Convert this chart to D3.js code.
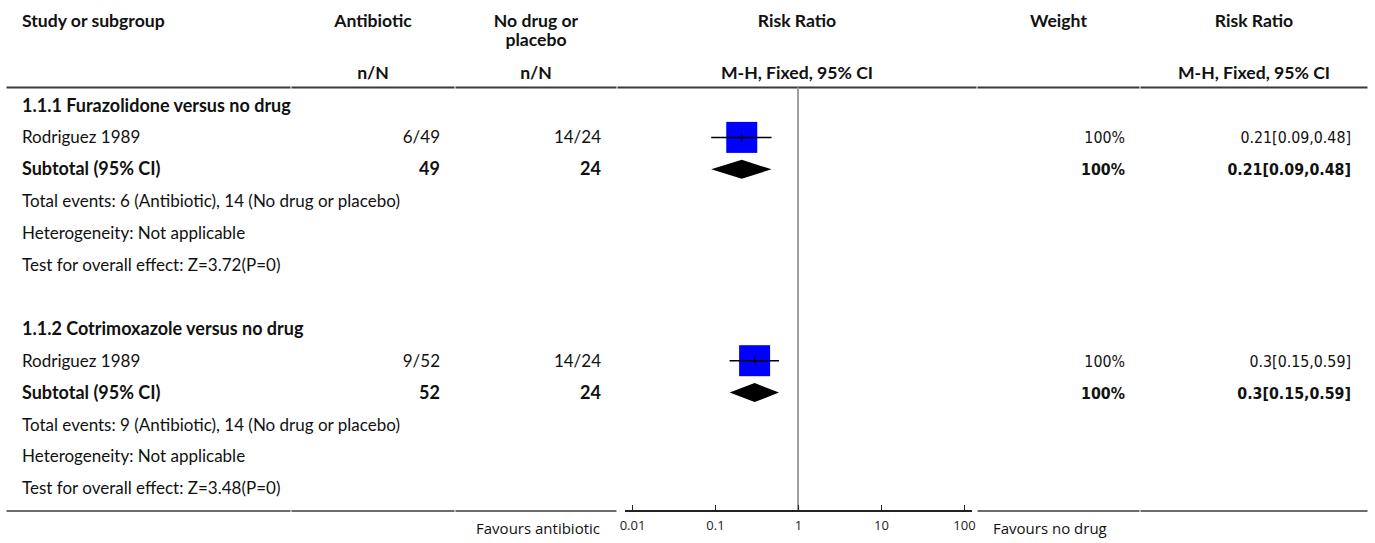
<!DOCTYPE html>
<html>
<head>
<meta charset="utf-8">
<script src="https://cdn.jsdelivr.net/npm/d3@7"></script>
<style>
  body { margin: 0; background: #fff; }
  svg text { font-family: Lato, "Noto Sans", sans-serif; fill: #111; }
  .hd { font-weight: bold; font-size: 17.6px; }
  .cell { font-size: 17px; }
  .cell.b { font-size: 18px; }
  .num { font-family: "DejaVu Sans Condensed", "DejaVu Sans", sans-serif; font-stretch: condensed; font-size: 15.8px; }
  .b { font-weight: bold; }
  .fav { font-family: "Open Sans", sans-serif; font-size: 15px; }
  .tick text { font-family: "Open Sans", sans-serif; font-size: 13px; fill: #222; }
</style>
</head>
<body>
<div id="plot"></div>
<script>
// data
var groupTitles = ["1.1.1 Furazolidone versus no drug", "1.1.2 Cotrimoxazole versus no drug"];
var studyNames = ["Rodriguez 1989", "Rodriguez 1989"];
var antibioticEvents = [6, 9];
var antibioticTotals = [49, 52];
var controlEvents = [14, 14];
var controlTotals = [24, 24];
var riskRatios = [0.21, 0.3];
var ciLower = [0.09, 0.15];
var ciUpper = [0.48, 0.59];
var weights = [100, 100];
var zValues = ["3.72", "3.48"];
var pValues = ["0", "0"];
var tickValues = [0.01, 0.1, 1, 10, 100];
var tickLabels = ["0.01", "0.1", "1", "10", "100"];
var favourLabels = ["Favours antibiotic", "Favours no drug"];

var w = 1375, h = 543;

// column layout
var cols = {
    study:  {x0: 6,   x1: 291},
    anti:   {x0: 291, x1: 455},
    ctrl:   {x0: 455, x1: 617},
    plot:   {x0: 617, x1: 977},
    weight: {x0: 977, x1: 1140},
    rr:     {x0: 1140, x1: 1368}
};
var pad = 15;
function mid(c) { return (c.x0 + c.x1) / 2; }

var svg = d3.select("#plot").append("svg")
    .attr("width", w)
    .attr("height", h);

// build the rows
var rows = [];
groupTitles.forEach(function (g, i) {
    if (i > 0) rows.push({type: "blank"});
    rows.push({type: "group", text: g});
    rows.push({type: "study", i: i});
    rows.push({type: "subtotal", i: i});
    rows.push({type: "text", text: "Total events: " + antibioticEvents[i] + " (Antibiotic), " + controlEvents[i] + " (No drug or placebo)"});
    rows.push({type: "text", text: "Heterogeneity: Not applicable"});
    rows.push({type: "text", text: "Test for overall effect: Z=" + zValues[i] + "(P=" + pValues[i] + ")"});
});

var rowH = 31.9, firstRow = 105.5;
var yRow = function (k) { return firstRow + k * rowH; };
var lineY = 87.5, bottomY = 511;

var x = d3.scaleLog()
    .domain([tickValues[0], tickValues[tickValues.length - 1]])
    .range([632, 964]);
var boxSize = d3.scaleSqrt().domain([0, 100]).range([0, 31]);

function rrText(i) {
    return riskRatios[i] + "[" + ciLower[i] + "," + ciUpper[i] + "]";
}

// header
var hdr = svg.append("g");
function head(txt, c, y) {
    hdr.append("text").attr("class", "hd")
        .attr("x", c === cols.study ? c.x0 + 16 : mid(c))
        .attr("y", y)
        .attr("text-anchor", c === cols.study ? "start" : "middle")
        .text(txt);
}
head("Study or subgroup", cols.study, 27);
head("Antibiotic", cols.anti, 27);
head("No drug or", cols.ctrl, 27);
head("placebo", cols.ctrl, 46);
head("Risk Ratio", cols.plot, 27);
head("Weight", cols.weight, 27);
head("Risk Ratio", cols.rr, 27);
head("n/N", cols.anti, 79);
head("n/N", cols.ctrl, 79);
head("M-H, Fixed, 95% CI", cols.plot, 79);
head("M-H, Fixed, 95% CI", cols.rr, 79);

// header + bottom rules, one segment per column
var colList = Object.values(cols);
svg.selectAll(".rule-top")
    .data(colList)
    .enter().append("line")
    .attr("x1", function (c) { return c.x0 + 0.5; })
    .attr("x2", function (c) { return c.x1 - 0.5; })
    .attr("y1", lineY).attr("y2", lineY)
    .style("stroke", "#3a3a3a")
    .style("stroke-width", 2);
svg.selectAll(".rule-bottom")
    .data(colList.filter(function (c) { return c !== cols.plot; }))
    .enter().append("line")
    .attr("x1", function (c) { return c.x0 + 0.5; })
    .attr("x2", function (c) { return c.x1 - 0.5; })
    .attr("y1", bottomY).attr("y2", bottomY)
    .style("stroke", "#3a3a3a")
    .style("stroke-width", 1.5);

// line of no effect
svg.append("line")
    .attr("x1", x(1)).attr("x2", x(1))
    .attr("y1", lineY).attr("y2", bottomY)
    .style("stroke", "#a0a0a0")
    .style("stroke-width", 2);

// rows
var body = svg.append("g");
rows.forEach(function (r, k) {
    var cy = yRow(k);
    var ty = cy + 6;
    if (r.type === "group") {
        body.append("text").attr("class", "cell b")
            .attr("x", cols.study.x0 + 16).attr("y", ty).text(r.text);
    }
    else if (r.type === "text") {
        body.append("text").attr("class", "cell")
            .attr("x", cols.study.x0 + 16).attr("y", ty).text(r.text);
    }
    else if (r.type === "study" || r.type === "subtotal") {
        var i = r.i;
        var sub = r.type === "subtotal";
        var cls = sub ? " b" : "";
        body.append("text").attr("class", "cell" + cls)
            .attr("x", cols.study.x0 + 16).attr("y", ty)
            .text(sub ? "Subtotal (95% CI)" : studyNames[i]);
        body.append("text").attr("class", "cell" + cls)
            .attr("x", cols.anti.x1 - pad).attr("y", ty).attr("text-anchor", "end")
            .text(sub ? antibioticTotals[i] : antibioticEvents[i] + "/" + antibioticTotals[i]);
        body.append("text").attr("class", "cell" + cls)
            .attr("x", cols.ctrl.x1 - pad - 1).attr("y", ty).attr("text-anchor", "end")
            .text(sub ? controlTotals[i] : controlEvents[i] + "/" + controlTotals[i]);
        body.append("text").attr("class", "num" + cls)
            .attr("x", cols.weight.x1 - pad).attr("y", ty).attr("text-anchor", "end")
            .text(weights[i] + "%");
        body.append("text").attr("class", "num" + cls)
            .attr("x", cols.rr.x1 - 17).attr("y", ty).attr("text-anchor", "end")
            .text(rrText(i));

        if (!sub) {
            var s = boxSize(weights[i]);
            body.append("rect")
                .attr("x", x(riskRatios[i]) - s / 2)
                .attr("y", cy - s / 2)
                .attr("width", s).attr("height", s)
                .style("fill", "#0000ff");
            body.append("line")
                .attr("x1", x(ciLower[i])).attr("x2", x(ciUpper[i]))
                .attr("y1", cy).attr("y2", cy)
                .style("stroke", "#000").style("stroke-width", 1.5);
            body.append("line")
                .attr("x1", x(riskRatios[i])).attr("x2", x(riskRatios[i]))
                .attr("y1", cy - 4.5).attr("y2", cy + 4.5)
                .style("stroke", "#000").style("stroke-width", 1);
        } else {
            var dh = 9.5;
            body.append("path")
                .attr("d", "M" + x(ciLower[i]) + "," + cy +
                    "L" + x(riskRatios[i]) + "," + (cy - dh) +
                    "L" + x(ciUpper[i]) + "," + cy +
                    "L" + x(riskRatios[i]) + "," + (cy + dh) + "Z")
                .style("fill", "#000");
        }
    }
});

// axis
var axis = svg.append("g")
    .attr("transform", "translate(0," + bottomY + ")")
    .call(d3.axisBottom(x)
        .tickValues(tickValues)
        .tickFormat(function (d, i) { return tickLabels[i]; })
        .tickSizeInner(-6)
        .tickSizeOuter(0)
        .tickPadding(10));
axis.select(".domain").remove();
axis.selectAll(".tick line").style("stroke", "#222");
axis.append("line")
    .attr("x1", x.range()[0] - 7).attr("x2", x.range()[1] + 8)
    .style("stroke", "#222").style("stroke-width", 2);

svg.append("text")
    .attr("class", "fav")
    .attr("x", 600).attr("y", bottomY + 23)
    .attr("text-anchor", "end")
    .text(favourLabels[0]);
svg.append("text")
    .attr("class", "fav")
    .attr("x", 993).attr("y", bottomY + 23)
    .text(favourLabels[1]);
</script>
</body>
</html>
